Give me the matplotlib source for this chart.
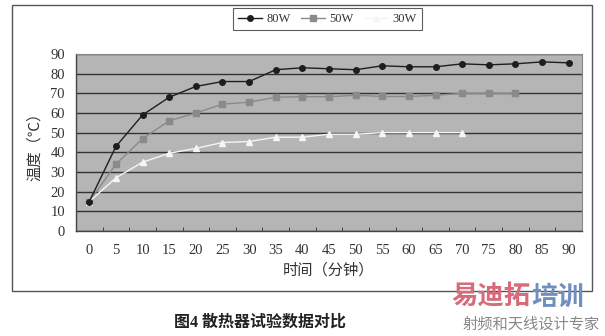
import matplotlib
matplotlib.use("Agg")
import matplotlib.pyplot as plt
from matplotlib.patches import Rectangle

plt.rcParams['font.family'] = ['Liberation Serif', 'Noto Sans CJK SC', 'DejaVu Sans']

minutes = [0, 5, 10, 15, 20, 25, 30, 35, 40, 45, 50, 55, 60, 65, 70, 75, 80, 85, 90]
temp_80w = [15, 43, 59, 68, 73.5, 76, 76, 82, 83, 82.5, 82, 84, 83.5, 83.5, 85, 84.5, 85, 86, 85.5]
temp_50w = [15, 34, 47, 56, 60, 64.5, 65.5, 68, 68.3, 68.3, 69, 68.4, 68.4, 69, 70, 70, 70]
temp_30w = [15, 27, 35, 39.5, 42, 45, 45.5, 47.7, 47.7, 49.2, 49.2, 50, 50, 50, 50]
series_names = ['80W', '50W', '30W']
y_ticks = [0, 10, 20, 30, 40, 50, 60, 70, 80, 90]
x_label = '时间（分钟）'
y_label = '温度（℃）'
caption = '图4 散热器试验数据对比'

W, H = 605, 336
fig = plt.figure(figsize=(W / 100, H / 100), dpi=100)
fig.patch.set_facecolor('white')

# outer frame
fig.add_artist(Rectangle((12 / W, 1 - 291 / H), 580 / W, 286 / H, transform=fig.transFigure,
                         fill=False, edgecolor='#555555', lw=1.0))

ax = fig.add_axes([76 / W, 1 - 231 / H, 506 / W, 177 / H])
ax.set_facecolor('#b5b5b5')
ax.set_xlim(-2.5, 92.5)
ax.set_ylim(0, 90)
ax.set_yticks(y_ticks)
ax.set_xticks(minutes)
ax.set_xticks([m + 2.5 for m in minutes[:-1]] + [-2.5, 92.5], minor=True)
ax.tick_params(axis='x', which='major', length=0, pad=9, labelsize=10.5, labelcolor='#333333')
ax.tick_params(axis='x', which='minor', direction='in', length=3, color='#333333')
ax.tick_params(axis='y', length=0, pad=8, labelsize=10.5, labelcolor='#333333')
ax.grid(axis='y', color='#333333', lw=1.0)
ax.set_axisbelow(True)
for s in ['top', 'right']:
    ax.spines[s].set_color('#888888')
    ax.spines[s].set_linewidth(0.8)
for s in ['left', 'bottom']:
    ax.spines[s].set_color('#444444')
    ax.spines[s].set_linewidth(1.0)

ax.plot(minutes[:len(temp_80w)], temp_80w, color='#1e1e1e', lw=1.0, marker='o', ms=4,
        label=series_names[0], zorder=5)
ax.plot(minutes[:len(temp_50w)], temp_50w, color='#8a8a8a', lw=1.0, marker='s', ms=4,
        label=series_names[1], zorder=4)
ax.plot(minutes[:len(temp_30w)], temp_30w, color='#f5f5f5', lw=1.0, marker='^', ms=4.5,
        label=series_names[2], zorder=4)

ax.set_xlabel(x_label, fontsize=11, color='#333333', labelpad=5)
ax.set_ylabel(y_label, fontsize=11, color='#333333', labelpad=6)

leg = fig.legend(loc='upper left', bbox_to_anchor=(233 / W, 1 - 8 / H), ncol=3, frameon=True,
                 fancybox=False, edgecolor='#333333', fontsize=9, handlelength=1.9,
                 columnspacing=0.8, handletextpad=0.4, borderpad=0.4, borderaxespad=0)
leg.get_frame().set_linewidth(0.8)
for t in leg.get_texts():
    t.set_color('#333333')

fig.text(260 / W, 1 - 323 / H, caption, ha='center', va='center', fontsize=11.5,
         fontweight='bold', color='#222222')
fig.text(531 / W, 1 - 297 / H, '易迪拓', ha='right', va='center', fontsize=19,
         fontweight='bold', color='#d96a7a', family=['Noto Sans CJK SC'])
fig.text(531 / W, 1 - 297 / H, '培训', ha='left', va='center', fontsize=19,
         fontweight='bold', color='#6f8fbf', family=['Noto Sans CJK SC'])
fig.text(531 / W, 1 - 324 / H, '射频和天线设计专家', ha='center', va='center', fontsize=11,
         color='#888888', family=['Noto Sans CJK SC'])

fig.savefig('out.png', dpi=100)
